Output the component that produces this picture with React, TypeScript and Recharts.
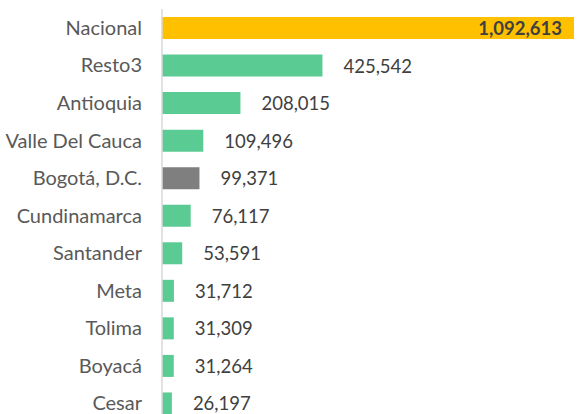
import { BarChart, Bar, XAxis, YAxis, Cell, LabelList } from "recharts";

const categories = [
  "Nacional",
  "Resto3",
  "Antioquia",
  "Valle Del Cauca",
  "Bogotá, D.C.",
  "Cundinamarca",
  "Santander",
  "Meta",
  "Tolima",
  "Boyacá",
  "Cesar",
];

const values = [
  1092613, 425542, 208015, 109496, 99371, 76117, 53591, 31712, 31309, 31264, 26197,
];

const barColors = [
  "#FFC000", "#5BCB94", "#5BCB94", "#5BCB94", "#7F7F7F", "#5BCB94",
  "#5BCB94", "#5BCB94", "#5BCB94", "#5BCB94", "#5BCB94",
];

const data = categories.map((name, i) => ({ name, value: values[i] }));

const fmt = (v: number) => v.toLocaleString("en-US");

const FONT = "Lato, 'Noto Sans', sans-serif";

function ValueLabel(props: any) {
  const { x, y, width, height, value, index } = props;
  const cy = y + height / 2;
  if (index === 0) {
    return (
      <text
        x={x + width - 12}
        y={cy}
        textAnchor="end"
        dominantBaseline="central"
        fontFamily={FONT}
        fontSize={18.5}
        fontWeight="bold"
        fill="#404040"
      >
        {fmt(value)}
      </text>
    );
  }
  return (
    <text
      x={x + width + 21}
      y={cy}
      textAnchor="start"
      dominantBaseline="central"
      fontFamily={FONT}
      fontSize={18.5}
      fill="#404040"
    >
      {fmt(value)}
    </text>
  );
}

export default function App() {
  return (
    <div style={{ position: "absolute", left: 0, top: 0, width: 577, height: 414, overflow: "hidden", background: "#fff" }}>
      <BarChart
        width={577}
        height={422}
        data={data}
        layout="vertical"
        barCategoryGap={0}
        margin={{ top: 9, right: 3, left: 0, bottom: 0 }}
      >
        <XAxis type="number" hide domain={[0, 1092613]} />
        <YAxis
          dataKey="name"
          type="category"
          width={162}
          axisLine={{ stroke: "#D9D9D9", strokeWidth: 1.5 }}
          tickLine={false}
          tickSize={0}
          tickMargin={20}
          tick={{ fontSize: 20, fill: "#595959", fontFamily: FONT }}
          interval={0}
        />
        <Bar dataKey="value" barSize={22} isAnimationActive={false}>
          {data.map((_, i) => (
            <Cell key={i} fill={barColors[i]} />
          ))}
          <LabelList dataKey="value" content={ValueLabel} />
        </Bar>
      </BarChart>
    </div>
  );
}
